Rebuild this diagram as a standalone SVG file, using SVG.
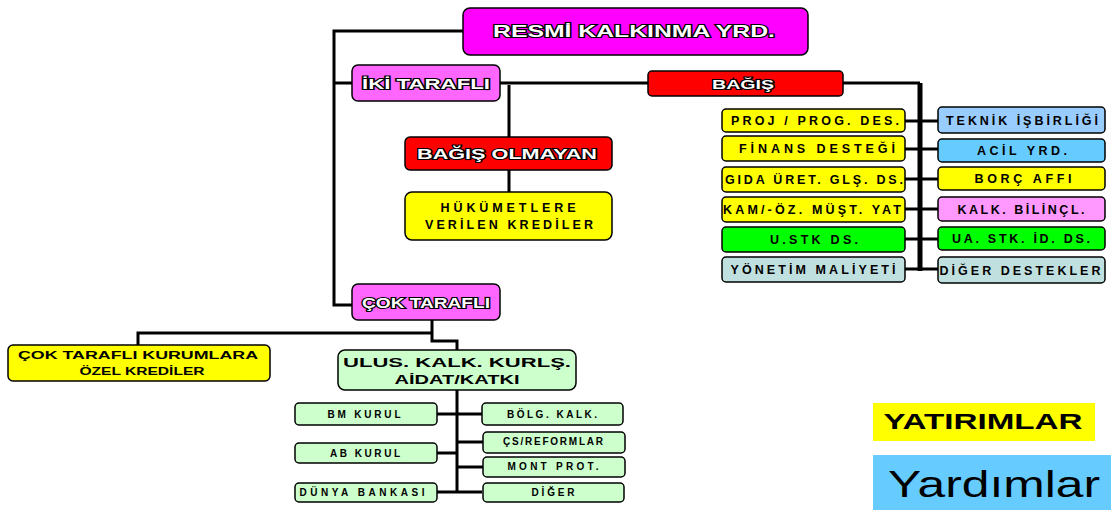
<svg xmlns="http://www.w3.org/2000/svg" width="1111" height="510" viewBox="0 0 1111 510">
<style>
.b{stroke:#000;stroke-width:1.5}
.w{fill:#fff;stroke:#000;stroke-width:2.2;paint-order:stroke;font-family:"Liberation Sans",Arial,sans-serif;font-weight:bold;text-anchor:middle}
.t{fill:#000;font-family:"Liberation Sans",Arial,sans-serif;font-weight:bold;text-anchor:middle}
.r{font-size:12.5px}
.s{font-size:10px}
.c{fill:none;stroke:#000;stroke-width:3}
</style>
<rect width="1111" height="510" fill="#fff"/>
<g id="connectors">
<path class="c" d="M463 31H334V305H352M334 83H352M500 83H648M509 85V137M509 170V192"/>
<path class="c" d="M843 83H920M905 121H938M905 149H938M905 179H938M905 209H938M905 239H938M905 269H938"/>
<path d="M920 83V271" fill="none" stroke="#000" stroke-width="5"/>
<path class="c" d="M432 320V333H138V345M432 333V341H457V350M457 390V492M437 414H482M437 453H457M437 492H482M457 442H483M457 467H483"/>
</g>
<g id="n-resmi"><rect class="b" x="463" y="8" width="345" height="47" rx="7" fill="#FF00FF"/><text class="w" x="634" y="37" font-size="17" textLength="282" lengthAdjust="spacingAndGlyphs">RESMİ KALKINMA YRD.</text></g>
<g id="n-iki"><rect class="b" x="352" y="65" width="148" height="36" rx="6" fill="#FF66FF"/><text class="w" x="426" y="89" font-size="14" textLength="128" lengthAdjust="spacingAndGlyphs">İKİ TARAFLI</text></g>
<g id="n-bagis"><rect class="b" x="648" y="71" width="195" height="25" rx="4" fill="#FF0000"/><text class="w" x="743" y="89" font-size="13" textLength="62" lengthAdjust="spacingAndGlyphs">BAĞIŞ</text></g>
<g id="n-bagisolm"><rect class="b" x="405" y="137" width="207" height="33" rx="5" fill="#FF0000"/><text class="w" x="507" y="159" font-size="15" textLength="180" lengthAdjust="spacingAndGlyphs">BAĞIŞ OLMAYAN</text></g>
<g id="n-hukumet"><rect class="b" x="405" y="192" width="207" height="48" rx="7" fill="#FFFF00"/><text class="t r" x="508" y="212" textLength="135" lengthAdjust="spacing">HÜKÜMETLERE</text><text class="t r" x="509" y="229" textLength="168" lengthAdjust="spacing">VERİLEN KREDİLER</text></g>
<g id="n-proj"><rect class="b" x="722" y="109" width="183" height="23" rx="4" fill="#FFFF00"/><text class="t r" x="815" y="125" textLength="168" lengthAdjust="spacing">PROJ / PROG. DES.</text></g>
<g id="n-finans"><rect class="b" x="722" y="136" width="183" height="25" rx="4" fill="#FFFF00"/><text class="t r" x="817" y="153" textLength="156" lengthAdjust="spacing">FİNANS DESTEĞİ</text></g>
<g id="n-gida"><rect class="b" x="722" y="167" width="183" height="25" rx="4" fill="#FFFF00"/><text class="t r" x="814" y="184" textLength="178" lengthAdjust="spacing">GIDA ÜRET. GLŞ. DS.</text></g>
<g id="n-kam"><rect class="b" x="722" y="197" width="183" height="25" rx="4" fill="#FFFF00"/><text class="t r" x="812" y="214" textLength="178" lengthAdjust="spacing">KAM/-ÖZ. MÜŞT. YAT</text></g>
<g id="n-ustk"><rect class="b" x="722" y="227" width="183" height="25" rx="4" fill="#00FF00"/><text class="t r" x="814" y="244" textLength="88" lengthAdjust="spacing">U.STK DS.</text></g>
<g id="n-yonetim"><rect class="b" x="722" y="257" width="183" height="25" rx="4" fill="#C0E0E0"/><text class="t r" x="813" y="274" textLength="165" lengthAdjust="spacing">YÖNETİM MALİYETİ</text></g>
<g id="n-teknik"><rect class="b" x="938" y="107" width="167" height="26" rx="4" fill="#99CCFF"/><text class="t r" x="1022" y="125" textLength="152" lengthAdjust="spacing">TEKNİK İŞBİRLİĞİ</text></g>
<g id="n-acil"><rect class="b" x="938" y="139" width="167" height="23" rx="4" fill="#66CCFF"/><text class="t r" x="1022" y="155" textLength="90" lengthAdjust="spacing">ACİL YRD.</text></g>
<g id="n-borc"><rect class="b" x="938" y="167" width="167" height="23" rx="4" fill="#FFFF00"/><text class="t r" x="1023" y="183" textLength="97" lengthAdjust="spacing">BORÇ AFFI</text></g>
<g id="n-kalk"><rect class="b" x="938" y="197" width="167" height="24" rx="4" fill="#FF99FF"/><text class="t r" x="1021" y="214" textLength="127" lengthAdjust="spacing">KALK. BİLİNÇL.</text></g>
<g id="n-ua"><rect class="b" x="938" y="227" width="167" height="23" rx="4" fill="#00FF00"/><text class="t r" x="1021" y="243" textLength="138" lengthAdjust="spacing">UA. STK. İD. DS.</text></g>
<g id="n-diger"><rect class="b" x="938" y="257" width="167" height="26" rx="4" fill="#C0E0E0"/><text class="t r" x="1020" y="275" textLength="161" lengthAdjust="spacing">DİĞER DESTEKLER</text></g>
<g id="n-cok"><rect class="b" x="352" y="284" width="148" height="36" rx="6" fill="#FF66FF"/><text class="w" x="426" y="308" font-size="14" textLength="128" lengthAdjust="spacingAndGlyphs">ÇOK TARAFLI</text></g>
<g id="n-cokkurum"><rect class="b" x="8" y="345" width="262" height="36" rx="5" fill="#FFFF00"/><text class="t" x="138" y="359" font-size="11.5" textLength="240" lengthAdjust="spacingAndGlyphs">ÇOK TARAFLI KURUMLARA</text><text class="t" x="142" y="375" font-size="11.5" textLength="125" lengthAdjust="spacingAndGlyphs">ÖZEL KREDİLER</text></g>
<g id="n-ulus"><rect class="b" x="338" y="350" width="238" height="40" rx="7" fill="#CCFFCC"/><text class="t" x="457" y="367" font-size="13.5" textLength="228" lengthAdjust="spacingAndGlyphs">ULUS. KALK. KURLŞ.</text><text class="t" x="457" y="384" font-size="13.5" textLength="125" lengthAdjust="spacingAndGlyphs">AİDAT/KATKI</text></g>
<g id="n-bm"><rect class="b" x="295" y="403" width="142" height="22" rx="4" fill="#CCFFCC"/><text class="t s" x="364" y="418" textLength="73" lengthAdjust="spacing">BM KURUL</text></g>
<g id="n-ab"><rect class="b" x="295" y="443" width="142" height="20" rx="4" fill="#CCFFCC"/><text class="t s" x="365" y="457" textLength="70" lengthAdjust="spacing">AB KURUL</text></g>
<g id="n-dunya"><rect class="b" x="295" y="483" width="142" height="19" rx="4" fill="#CCFFCC"/><text class="t s" x="362" y="496" textLength="125" lengthAdjust="spacing">DÜNYA BANKASI</text></g>
<g id="n-bolg"><rect class="b" x="482" y="403" width="141" height="22" rx="4" fill="#CCFFCC"/><text class="t s" x="552" y="418" textLength="90" lengthAdjust="spacing">BÖLG. KALK.</text></g>
<g id="n-cs"><rect class="b" x="483" y="432" width="142" height="21" rx="4" fill="#CCFFCC"/><text class="t s" x="553" y="445" textLength="100" lengthAdjust="spacing">ÇS/REFORMLAR</text></g>
<g id="n-mont"><rect class="b" x="483" y="457" width="142" height="20" rx="4" fill="#CCFFCC"/><text class="t s" x="553" y="470" textLength="91" lengthAdjust="spacing">MONT PROT.</text></g>
<g id="n-diger2"><rect class="b" x="483" y="483" width="141" height="19" rx="4" fill="#CCFFCC"/><text class="t s" x="553" y="496" textLength="43" lengthAdjust="spacing">DİĞER</text></g>
<g id="legend-yatirim"><rect x="873" y="403" width="222" height="38" fill="#FFFF00"/><text class="t" x="983" y="429" font-size="22" textLength="199" lengthAdjust="spacingAndGlyphs">YATIRIMLAR</text></g>
<g id="legend-yardim"><rect x="873" y="455" width="238" height="55" fill="#66CCFF"/><text x="994" y="497" font-family="'Liberation Sans',Arial,sans-serif" font-size="36" text-anchor="middle" textLength="212" lengthAdjust="spacingAndGlyphs" fill="#000">Yardımlar</text></g>
</svg>
